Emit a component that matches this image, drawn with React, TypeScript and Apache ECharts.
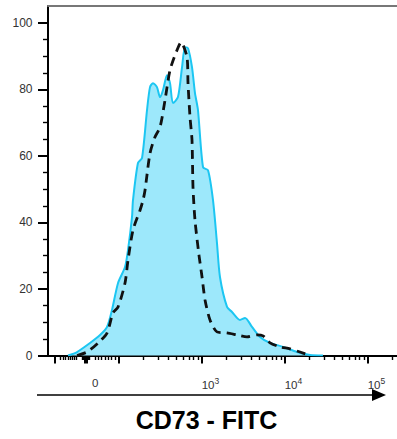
import React, { useEffect, useRef } from "react";
import * as echarts from "echarts";

// x positions are in display decades (3 = 10^3), y in % of max
const cyanX = [1.389, 1.498, 1.654, 1.775, 1.859, 1.919, 1.992, 2.076, 2.112, 2.16, 2.172, 2.232, 2.281, 2.341, 2.377, 2.413, 2.461, 2.498, 2.534, 2.582, 2.618, 2.654, 2.714, 2.763, 2.799, 2.835, 2.883, 2.919, 2.955, 3.016, 3.076, 3.136, 3.184, 3.22, 3.305, 3.365, 3.461, 3.522, 3.606, 3.702, 3.823, 3.98, 4.148, 4.305, 4.461];
const cyanY = [0, 1.05, 3.76, 6.16, 8.57, 13.7, 21.8, 26.6, 31.7, 41.6, 46.7, 57.9, 59.4, 73.8, 80.7, 81.9, 80.7, 77.7, 79.8, 84.3, 81.9, 75.9, 77.7, 86.7, 92.7, 92.4, 86.7, 78.9, 73.8, 56.6, 55.7, 46.7, 33.8, 23.6, 14.6, 13.1, 10.7, 11.3, 8.6, 5.6, 3.8, 2.6, 1.05, 0.15, 0];

const dashX = [1.498, 1.618, 1.751, 1.859, 1.931, 1.992, 2.076, 2.112, 2.172, 2.257, 2.293, 2.317, 2.377, 2.437, 2.498, 2.558, 2.618, 2.702, 2.751, 2.823, 2.835, 2.859, 2.883, 2.895, 2.919, 2.967, 3.004, 3.04, 3.1, 3.184, 3.305, 3.425, 3.546, 3.666, 3.739, 3.823, 3.943, 4.064, 4.184, 4.305];
const dashY = [0, 1.05, 3.76, 6.76, 12.8, 14.6, 21.8, 28.7, 37.7, 43.7, 46.7, 49.7, 60.8, 65.7, 68.7, 76.8, 85.8, 91.8, 94.2, 89.7, 81.9, 71.7, 64.8, 50.6, 40.7, 30.2, 23.6, 16.7, 10.7, 7.1, 6.8, 6.2, 5.6, 6.2, 5.9, 3.8, 2.6, 2.0, 1.05, 0];

const xMin = 1.148;
const xMax = 5.353;
const yMin = 0;
const yMax = 105.1;

const xLabelValues = [1.678, 3, 4, 5];
const xLabelTexts = ["0", "10{s|3}", "10{s|4}", "10{s|5}"];
const xMajorTicks = [1.233, 1.594, 1.612, 2, 3, 4, 5];
const xLinearMinorTicks = [1.293, 1.333, 1.361, 1.386, 1.413, 1.441, 1.465, 1.494, 1.558, 1.576, 1.63, 1.648, 1.714, 1.754, 1.795, 1.835, 1.875, 1.916, 1.964];
const yLabelValues = [0, 20, 40, 60, 80, 100];
const yMinorTicks = [5, 10, 15, 25, 30, 35, 45, 50, 55, 65, 70, 75, 85, 90, 95];

const FONT = "'Liberation Sans', Arial, sans-serif";

export default function App() {
  const ref = useRef<HTMLDivElement>(null);
  useEffect(() => {
    if (!ref.current) return;
    const chart = echarts.init(ref.current, null, { renderer: "svg" });
    const logMinor: number[] = [];
    for (const d of [2, 3, 4, 5]) {
      for (let k = 2; k <= 9; k++) {
        const v = d + Math.log10(k);
        if (v < xMax) logMinor.push(v);
      }
    }
    const xMinorTicks = xLinearMinorTicks.concat(logMinor);
    const baseAxis = {
      type: "value" as const,
      min: xMin,
      max: xMax,
      splitLine: { show: false },
    };
    chart.setOption({
      animation: false,
      grid: { left: 48, right: 0, top: 6, bottom: 83.5 },
      xAxis: [
        {
          ...baseAxis,
          position: "bottom",
          axisLine: { show: true, lineStyle: { color: "#000", width: 2 } },
          axisTick: {
            show: true,
            customValues: xMajorTicks,
            length: 8,
            lineStyle: { color: "#000", width: 2 },
          },
          axisLabel: {
            show: true,
            customValues: xLabelValues,
            margin: 21,
            align: "left",
            fontFamily: FONT,
            fontSize: 11.5,
            color: "#333",
            formatter: (v: number) => {
              let best = 0;
              for (let i = 0; i < xLabelValues.length; i++) {
                if (Math.abs(xLabelValues[i] - v) < Math.abs(xLabelValues[best] - v)) best = i;
              }
              return xLabelTexts[best];
            },
            rich: {
              s: { fontSize: 8.5, fontFamily: FONT, color: "#333", padding: [0, 0, 8, 0] },
            },
          },
        },
        {
          ...baseAxis,
          position: "bottom",
          axisLine: { show: false },
          axisTick: {
            show: true,
            customValues: xMinorTicks,
            length: 4.5,
            lineStyle: { color: "#000", width: 1.4 },
          },
          axisLabel: { show: false },
        },
        {
          ...baseAxis,
          position: "top",
          axisLine: { show: true, lineStyle: { color: "#777", width: 2 } },
          axisTick: { show: false },
          axisLabel: { show: false },
        },
      ],
      yAxis: [
        {
          type: "value",
          min: yMin,
          max: yMax,
          position: "left",
          splitLine: { show: false },
          axisLine: { show: true, lineStyle: { color: "#000", width: 2 } },
          axisTick: {
            show: true,
            customValues: yLabelValues,
            length: 10,
            lineStyle: { color: "#000", width: 2 },
          },
          axisLabel: {
            show: true,
            customValues: yLabelValues,
            margin: 15.5,
            fontFamily: FONT,
            fontSize: 12,
            color: "#333",
          },
        },
        {
          type: "value",
          min: yMin,
          max: yMax,
          position: "left",
          splitLine: { show: false },
          axisLine: { show: false },
          axisTick: {
            show: true,
            customValues: yMinorTicks,
            length: 5,
            lineStyle: { color: "#000", width: 1.4 },
          },
          axisLabel: { show: false },
        },
      ],
      series: [
        {
          type: "line",
          xAxisIndex: 0,
          yAxisIndex: 0,
          data: cyanX.map((x, i) => [x, cyanY[i]]),
          showSymbol: false,
          smooth: 0.25,
          lineStyle: { color: "#1CC6F2", width: 2 },
          areaStyle: { color: "#9DE8FB", opacity: 1 },
          z: 2,
        },
        {
          type: "line",
          xAxisIndex: 0,
          yAxisIndex: 0,
          data: dashX.map((x, i) => [x, dashY[i]]),
          showSymbol: false,
          smooth: 0.25,
          lineStyle: { color: "#111", width: 2.8, type: [9, 6] },
          z: 3,
        },
      ],
      graphic: [
        {
          type: "line",
          shape: { x1: 37, y1: 395, x2: 373, y2: 395 },
          style: { stroke: "#000", lineWidth: 1.5 },
        },
        {
          type: "polygon",
          shape: { points: [[372, 389], [386, 395], [372, 401]] },
          style: { fill: "#000" },
        },
        {
          type: "text",
          x: 206.5,
          y: 420,
          style: {
            text: "CD73 - FITC",
            font: `bold 25px ${FONT}`,
            fill: "#000",
            textAlign: "center",
            textVerticalAlign: "middle",
          },
        },
      ],
    });
    return () => chart.dispose();
  }, []);
  return (
    <div
      ref={ref}
      style={{ position: "absolute", left: 0, top: 0, width: 397, height: 439 }}
    />
  );
}
